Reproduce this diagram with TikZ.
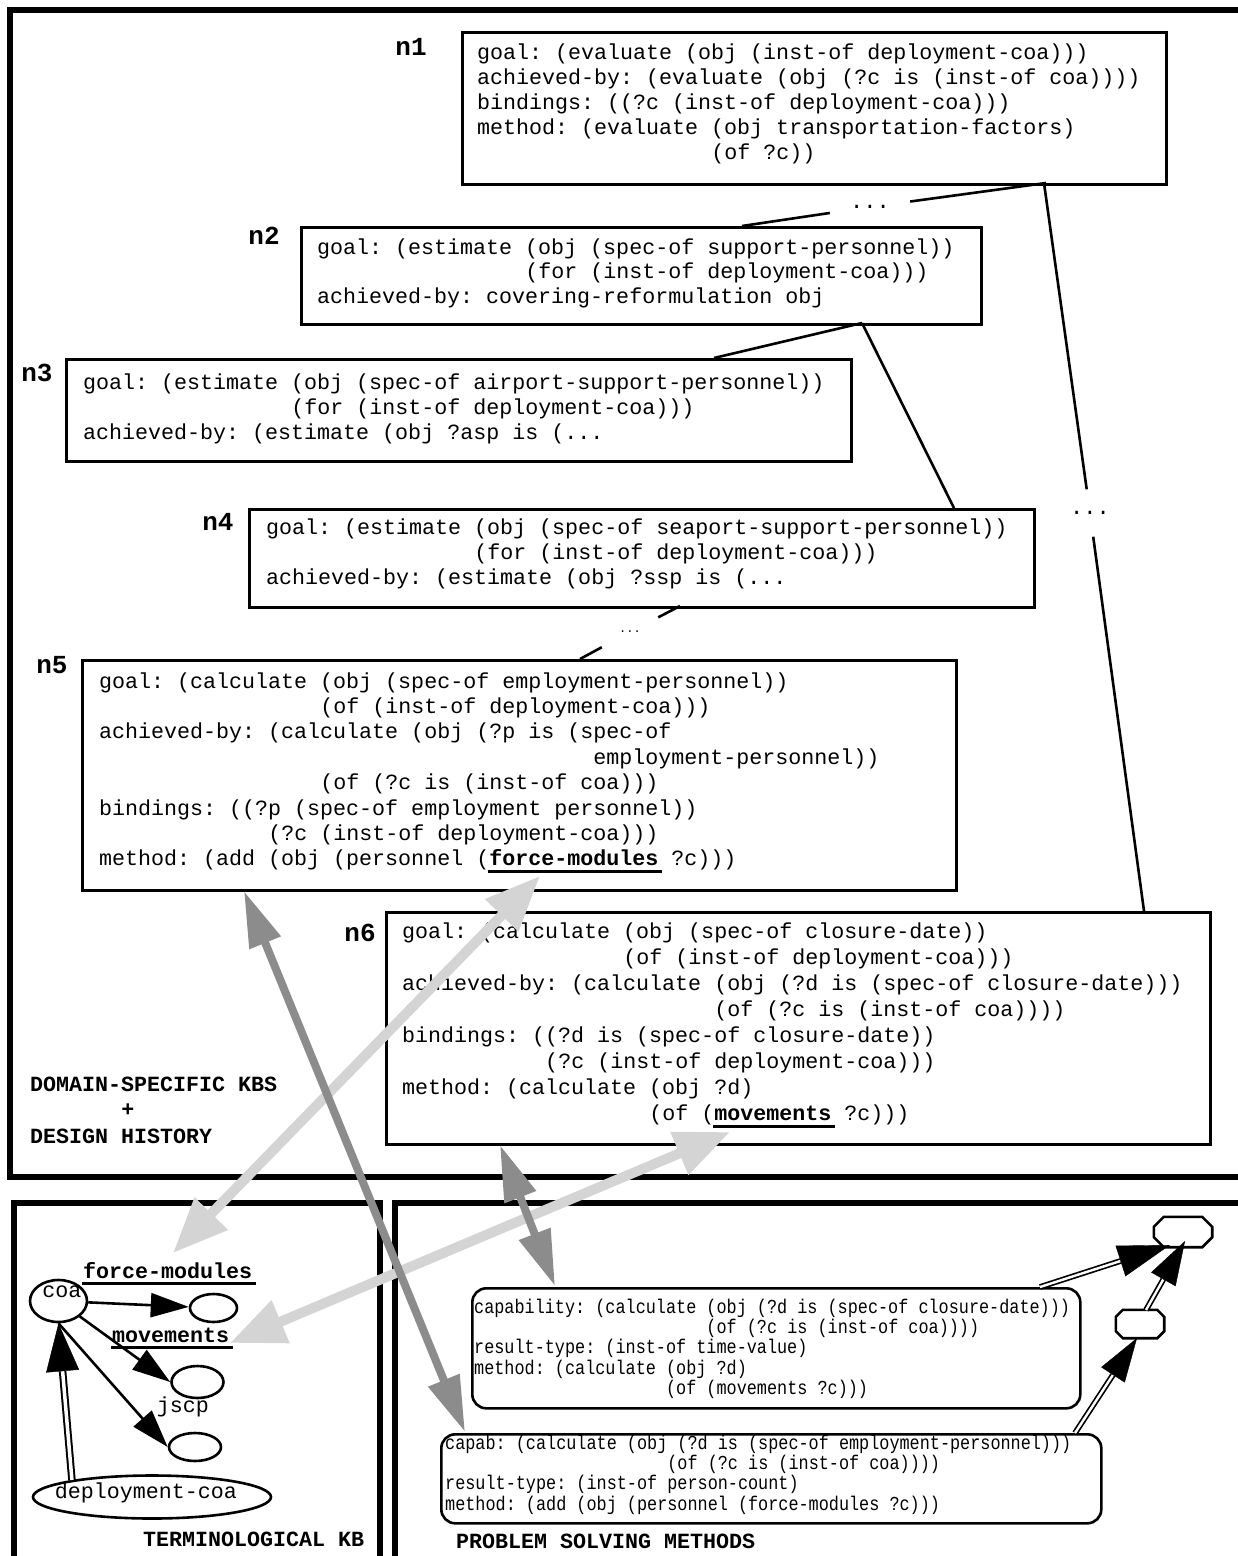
\documentclass[tikz,border=0pt]{standalone}
\usepackage{fontspec}
\usetikzlibrary{arrows.meta,calc,shapes.geometric}
\newfontfamily\cour{Liberation Mono}
\newfontfamily\courc[FakeStretch=0.85]{Liberation Mono}
\frenchspacing
\newcommand\ind[1]{\hspace*{#1\fontdimen2\font}}
\newsavebox\ulbox
\newcommand\ulb[1]{\sbox\ulbox{\bfseries #1}\rlap{\kern-1pt\rule[-7pt]{\dimexpr\wd\ulbox+5pt\relax}{3pt}}\usebox\ulbox}
\newcommand\tb[2]{\cour\fontsize{#1}{#2}\selectfont\frenchspacing}
\newcommand\tc[2]{\courc\fontsize{#1}{#2}\selectfont\frenchspacing}
\definecolor{dgray}{RGB}{140,140,140}
\definecolor{lgray}{RGB}{212,212,212}
\tikzset{
  panel/.style={draw, line width=5.5pt},
  nbox/.style={draw, line width=2.6pt, anchor=north west, inner sep=0pt},
  pbox/.style={draw, line width=2.6pt, rounded corners=14pt, anchor=north west, inner sep=0pt},
  txt/.style={anchor=base west, inner sep=0pt},
  nlab/.style={font=\cour\bfseries\fontsize{26pt}{30pt}\selectfont, inner sep=0pt},
  blab/.style={font=\cour\bfseries\fontsize{21.67pt}{25pt}\selectfont\frenchspacing, anchor=base west, inner sep=0pt},
  plain/.style={font=\tb{21.67pt}{25pt}, anchor=base, inner sep=0pt},
  link/.style={line width=2.6pt},
  dotsnode/.style={font=\tb{22pt}{25pt}, inner sep=0pt},
  ell/.style={draw, ellipse, line width=2.6pt, inner sep=0pt},
  sarrow/.style={line width=2.6pt, -{Triangle[length=38pt,width=24pt]}},
  dblK/.style={draw, double, line width=2pt, double distance=3.5pt},
  dblP/.style={draw, double, line width=1.7pt, double distance=2.4pt},
  headtip/.style 2 args={line width=0.4pt, -{Triangle[length=#1,width=#2]}},
  darrow/.style={draw=dgray, line width=8pt, {Triangle[length=56pt,width=32pt]}-{Triangle[length=56pt,width=32pt]}},
  larrow/.style={draw=lgray, line width=10pt, {Triangle[length=55pt,width=44pt]}-{Triangle[length=55pt,width=44pt]}},
  octl/.style={line width=2.6pt, fill=white},
}
\newcommand\dblarrow[5]{%
  \draw[#5] (#1) -- ($(#2)!#3!(#1)$);
  \draw[headtip={#3}{#4}] ($(#2)!#3!(#1)$) -- (#2);
}
\newcommand\octagon[2]{%
  \draw[octl] ([xshift=#2]#1.north west) -- ([xshift=-#2]#1.north east) -- ([yshift=-#2]#1.north east) -- ([yshift=#2]#1.south east) -- ([xshift=-#2]#1.south east) -- ([xshift=#2]#1.south west) -- ([yshift=#2]#1.south west) -- ([yshift=-#2]#1.north west) -- cycle;}
\begin{document}
\begin{tikzpicture}[x=1pt,y=-1pt]
\useasboundingbox (0,0) rectangle (1238,1556);
\clip (0,0) rectangle (1238,1556);

% panels
\draw[panel] (10,10) rectangle (1260,1177);
\draw[panel] (14,1203) rectangle (380,1600);
\draw[panel] (395,1203) rectangle (1260,1600);

% n boxes
\node[nbox, minimum width=704pt, minimum height=152pt] (n1) at (461,31) {};
\node[nbox, minimum width=680pt, minimum height=97pt] (n2) at (300,226) {};
\node[nbox, minimum width=785pt, minimum height=102pt] (n3) at (65,358) {};
\node[nbox, minimum width=785pt, minimum height=98pt] (n4) at (248,508) {};
\node[nbox, minimum width=874pt, minimum height=230pt] (n5) at (81,659) {};
\node[nbox, minimum width=824pt, minimum height=232pt] (n6) at (385,911) {};

\node[nlab] (l1) at (411,47) {n1};
\node[nlab] (l2) at (264,236) {n2};
\node[nlab] (l3) at (37,373) {n3};
\node[nlab] (l4) at (218,522) {n4};
\node[nlab] (l5) at (52,665) {n5};
\node[nlab] (l6) at (360,933) {n6};

\node[txt, font=\tb{21.67pt}{25pt}] (t1) at (477,59) {\begin{tabular}[t]{@{}l@{}}
goal: (evaluate (obj (inst-of deployment-coa)))\\
achieved-by: (evaluate (obj (?c is (inst-of coa))))\\
bindings: ((?c (inst-of deployment-coa)))\\
method: (evaluate (obj transportation-factors)\\
\ind{18}(of ?c))
\end{tabular}};

\node[txt, font=\tb{21.67pt}{24.5pt}] (t2) at (317,254) {\begin{tabular}[t]{@{}l@{}}
goal: (estimate (obj (spec-of support-personnel))\\
\ind{16}(for (inst-of deployment-coa)))\\
achieved-by: covering-reformulation obj
\end{tabular}};

\node[txt, font=\tb{21.67pt}{25pt}] (t3) at (83,389) {\begin{tabular}[t]{@{}l@{}}
goal: (estimate (obj (spec-of airport-support-personnel))\\
\ind{16}(for (inst-of deployment-coa)))\\
achieved-by: (estimate (obj ?asp is (...
\end{tabular}};

\node[txt, font=\tb{21.67pt}{25pt}] (t4) at (266,534) {\begin{tabular}[t]{@{}l@{}}
goal: (estimate (obj (spec-of seaport-support-personnel))\\
\ind{16}(for (inst-of deployment-coa)))\\
achieved-by: (estimate (obj ?ssp is (...
\end{tabular}};

\node[txt, font=\tb{21.67pt}{25.4pt}] (t5) at (99,688) {\begin{tabular}[t]{@{}l@{}}
goal: (calculate (obj (spec-of employment-personnel))\\
\ind{17}(of (inst-of deployment-coa)))\\
achieved-by: (calculate (obj (?p is (spec-of\\
\ind{38}employment-personnel))\\
\ind{17}(of (?c is (inst-of coa)))\\
bindings: ((?p (spec-of employment personnel))\\
\ind{13}(?c (inst-of deployment-coa)))\\
method: (add (obj (personnel (\ulb{force-modules} ?c)))
\end{tabular}};

\node[txt, font=\tb{21.67pt}{26.1pt}] (t6) at (402,938) {\begin{tabular}[t]{@{}l@{}}
goal: (calculate (obj (spec-of closure-date))\\
\ind{17}(of (inst-of deployment-coa)))\\
achieved-by: (calculate (obj (?d is (spec-of closure-date)))\\
\ind{24}(of (?c is (inst-of coa))))\\
bindings: ((?d is (spec-of closure-date))\\
\ind{11}(?c (inst-of deployment-coa)))\\
method: (calculate (obj ?d)\\
\ind{19}(of (\ulb{movements} ?c)))
\end{tabular}};

% tree connectors
\coordinate (n1a) at (1046,183);
\coordinate (n1b) at (1044,183);
\coordinate (n2t) at (742,226);
\coordinate (n2b) at (862,323);
\coordinate (n3t) at (714,358);
\coordinate (n4t) at (954,508);
\coordinate (n4b) at (680,606);
\coordinate (n5t) at (580,659);
\coordinate (n6t) at (1144,911);
\node[dotsnode, minimum width=80pt, minimum height=14pt] (d1) at (870,207) {...};
\node[dotsnode, minimum width=24pt, minimum height=47pt] (d2) at (1090,513) {...};
\node[font=\tb{12pt}{14pt}, inner sep=0pt, minimum width=56pt, minimum height=34pt] (d3) at (630,632) {...};
\draw[link] (n1a) -- (d1);
\draw[link] (d1) -- (n2t);
\draw[link] (n1b) -- (d2);
\draw[link] (d2) -- (n6t);
\draw[link] (n2b) -- (n3t);
\draw[link] (n2b) -- (n4t);
\draw[link] (n4b) -- (d3);
\draw[link] (d3) -- (n5t);

% top panel label
\node[blab] (dom) at (30,1091) {DOMAIN-SPECIFIC KBS};
\node[blab, anchor=base] (plus) at (128,1116) {+};
\node[blab] (dh) at (30,1143) {DESIGN HISTORY};

% terminological KB
\node[ell, minimum width=57pt, minimum height=42pt] (coa) at (58.5,1301) {};
\node[plain] (coat) at (62,1297) {coa};
\node[ell, minimum width=47pt, minimum height=28pt] (e2) at (213.5,1308) {};
\node[ell, minimum width=52pt, minimum height=32pt] (e3) at (197.5,1382) {};
\node[ell, minimum width=52pt, minimum height=28pt] (e4) at (195,1447) {};
\node[ell, minimum width=238pt, minimum height=43pt] (dc) at (152,1497) {};
\node[plain] (dct) at (146,1498) {deployment-coa};
\node[plain] (jscp) at (183,1412) {jscp};
\node[blab] (fm) at (83,1278) {\ulb{force-modules}};
\node[blab] (mv) at (112,1342) {\ulb{movements}};
\draw[sarrow] (coa) -- (e2);
\draw[sarrow] (coa) -- (e3.west);
\draw[sarrow] (coa.south) -- (e4.west);
\dblarrow{dc.168}{coa.south}{48pt}{33pt}{dblK}
\node[blab] (tkb) at (143,1546) {TERMINOLOGICAL KB};

% problem solving methods
\node[pbox, minimum width=608pt, minimum height=120pt] (cap) at (471,1287) {};
\node[pbox, minimum width=660pt, minimum height=89pt] (capab) at (440,1433) {};
\node[txt, font=\tc{19.8pt}{20.3pt}] (ct) at (474,1313) {\begin{tabular}[t]{@{}l@{}}
capability: (calculate (obj (?d is (spec-of closure-date)))\\
\ind{23}(of (?c is (inst-of coa))))\\
result-type: (inst-of time-value)\\
method: (calculate (obj ?d)\\
\ind{19}(of (movements ?c)))
\end{tabular}};
\node[txt, font=\tc{19.8pt}{20.3pt}] (cbt) at (445,1449) {\begin{tabular}[t]{@{}l@{}}
capab: (calculate (obj (?d is (spec-of employment-personnel)))\\
\ind{22}(of (?c is (inst-of coa))))\\
result-type: (inst-of person-count)\\
method: (add (obj (personnel (force-modules ?c)))
\end{tabular}};
\node[blab] (psm) at (456,1548) {PROBLEM SOLVING METHODS};

\node[inner sep=0pt, minimum width=58pt, minimum height=30pt] (o1) at (1183,1232) {};
\node[inner sep=0pt, minimum width=48pt, minimum height=28pt] (o2) at (1140,1324) {};
\octagon{o1}{10pt}
\octagon{o2}{7pt}
\coordinate (capA) at (1040,1287);
\coordinate (o1A) at (1170,1245);
\coordinate (o2T) at (1146,1310);
\coordinate (o1B) at (1185,1241);
\coordinate (cbA) at (1075,1433);
\coordinate (o2B) at (1137,1338);
\dblarrow{capA}{o1A}{52pt}{32pt}{dblP}
\dblarrow{o2T}{o1B}{44pt}{28pt}{dblP}
\dblarrow{cbA}{o2B}{44pt}{28pt}{dblP}

% grey cross-links
\coordinate (g1a) at (244,891); \coordinate (g1b) at (465,1432);
\coordinate (g2a) at (500,1145); \coordinate (g2b) at (555,1286);
\coordinate (g3a) at (540,876); \coordinate (g3b) at (173,1253);
\coordinate (g4a) at (730,1132); \coordinate (g4b) at (230,1343);
\draw[larrow] (g3a) -- (g3b);
\draw[larrow] (g4a) -- (g4b);
\draw[darrow] (g1a) -- (g1b);
\draw[darrow] (g2a) -- (g2b);
\end{tikzpicture}
\end{document}
